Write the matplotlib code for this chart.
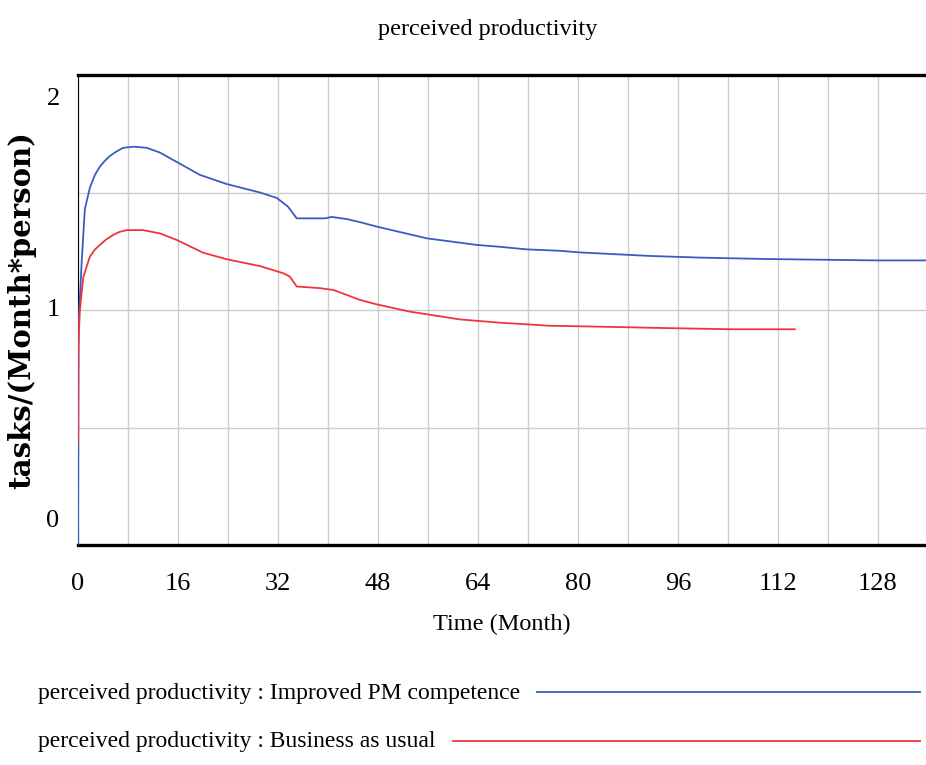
import matplotlib
matplotlib.use('Agg')
import matplotlib.pyplot as plt
import numpy as np

# improved PM competence run
t_improved = [0, 0.1, 0.4, 0.6, 1.1, 1.9, 2.7, 3.5, 4.3, 5.1, 6.0, 7.2, 9, 11, 13.1,
              15.8, 19.5, 23.8, 29.1, 31.8, 33.6, 35, 39.5, 40.6, 43, 45.1, 47.8,
              55.8, 63.8, 67.5, 71.8, 77.1, 80.3, 91.5, 99.5, 110, 127.8, 135.7]
v_improved = [0, 0.95, 1.1, 1.21, 1.43, 1.52, 1.575, 1.61, 1.635, 1.655, 1.672,
              1.69, 1.695, 1.69, 1.67, 1.63, 1.575, 1.536, 1.50, 1.477, 1.44, 1.39,
              1.39, 1.396, 1.387, 1.374, 1.355, 1.305, 1.277, 1.269, 1.258, 1.252,
              1.245, 1.23, 1.223, 1.217, 1.211, 1.211]

# business as usual run
t_bau = [0, 0.05, 0.3, 0.85, 1.9, 2.7, 3.5, 4.5, 5.6, 6.6, 7.8, 10.4, 13.1, 15.8,
         20, 23.8, 29.1, 32.9, 33.9, 35, 38.7, 40.9, 43, 45.1, 47.8, 53.1, 61.1,
         67.5, 75.5, 83.5, 94.2, 104.8, 114.7]
v_bau = [0.43, 0.84, 1.0, 1.14, 1.227, 1.257, 1.277, 1.30, 1.319, 1.332, 1.34,
         1.34, 1.326, 1.298, 1.244, 1.216, 1.187, 1.156, 1.142, 1.10, 1.093,
         1.085, 1.064, 1.043, 1.024, 0.993, 0.96, 0.946, 0.933, 0.929, 0.923,
         0.918, 0.918]

x_ticks = [0, 16, 32, 48, 64, 80, 96, 112, 128]
y_labels = ['0', '1', '2']
series_names = ['perceived productivity : Improved PM competence',
                'perceived productivity : Business as usual']
colors = ['#3a5cc2', '#f2333d']

serif = 'Liberation Serif'

fig = plt.figure(figsize=(9.26, 7.65), dpi=100)
W, H = 926, 765
ax = fig.add_axes([78 / W, 220 / H, (W - 78) / W, 470 / H])

ax.plot(t_improved, v_improved, color=colors[0], lw=1.3, zorder=3)
ax.plot(t_bau, v_bau, color=colors[1], lw=1.3, zorder=3)

ax.set_xlim(0, 135.7)
ax.set_ylim(0, 2)
grid_x = np.arange(0, 136, 8)
ax.set_xticks(grid_x)
ax.set_xticklabels([str(int(v)) if v in x_ticks else '' for v in grid_x],
                   fontfamily=serif, fontsize=19)
ax.set_yticks([0, 0.5, 1, 1.5, 2])
ax.set_yticklabels([])
ax.tick_params(length=0, pad=20)
ax.grid(color='#cccccc', lw=1.0, zorder=0)

for s in ['top', 'bottom']:
    ax.spines[s].set_linewidth(2.4)
ax.spines['left'].set_linewidth(0.8)
ax.spines['right'].set_visible(False)

# y tick numbers, Vensim-style placement inside the range
for val, lab, off in [(0, y_labels[0], 17), (1, y_labels[1], 0), (2, y_labels[2], -17)]:
    ax.annotate(lab, xy=(0, val), xycoords=('axes fraction', 'data'),
                xytext=(-18, off), textcoords='offset points',
                ha='center', va='center', fontfamily=serif, fontsize=19)

ax.set_xlabel('Time (Month)', fontfamily=serif, fontsize=17.5, labelpad=14)

fig.text(488 / W, 1 - 30 / H, 'perceived productivity', ha='center', va='center',
         fontfamily=serif, fontsize=17.5)
fig.text(22 / W, 1 - 310 / H, 'tasks/(Month*person)', rotation=90, ha='center',
         va='center', fontfamily='DejaVu Serif', fontweight='bold', fontsize=21)

# legend rows: label then a line running to the right edge
fig.canvas.draw()
renderer = fig.canvas.get_renderer()
for name, color, yc in zip(series_names, colors, [693, 742]):
    txt = fig.text(38 / W, 1 - yc / H, name, ha='left', va='center',
                   fontfamily=serif, fontsize=17)
    bb = txt.get_window_extent(renderer)
    x0 = (bb.x1 + 17) / W
    fig.add_artist(plt.Line2D([x0, 920 / W], [1 - (yc - 1) / H] * 2,
                              color=color, lw=1.3, transform=fig.transFigure))

fig.savefig('out.png', dpi=100)
